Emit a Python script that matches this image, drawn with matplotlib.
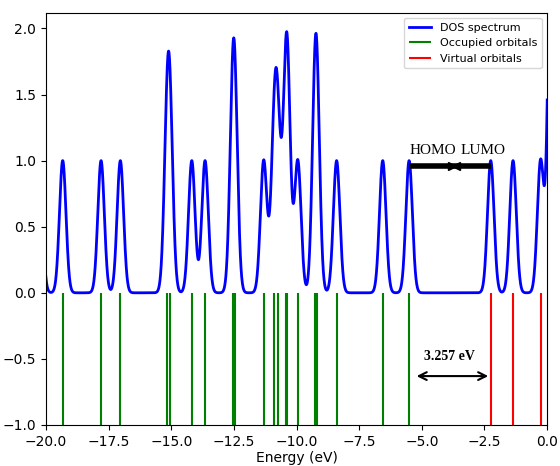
import matplotlib
matplotlib.use("Agg")
import matplotlib.pyplot as plt
import numpy as np

# orbital energies (eV)
occupied = [-20.27, -19.33, -17.80, -17.03, -15.16, -15.05, -14.18, -13.65,
            -12.54, -12.47, -11.31, -10.895, -10.745, -10.42, -10.36, -9.95,
            -9.25, -9.20, -8.40, -6.56, -5.507]
virtual = [-2.25, -1.36, -0.26, 0.16, 0.17, 0.18]
sigma = 0.13

homo = max(occupied)
lumo = min(virtual)
gap = lumo - homo

energy = np.linspace(-21, 1, 4000)
dos = np.zeros_like(energy)
for e in occupied + virtual:
    dos += np.exp(-(energy - e) ** 2 / (2 * sigma ** 2))

fig, ax = plt.subplots(figsize=(5.6, 4.66), dpi=100)
fig.subplots_adjust(left=0.082, right=0.977, bottom=0.088, top=0.973)

ax.plot(energy, dos, color='blue', lw=2, label='DOS spectrum')
ax.vlines(occupied, -1, 0, color='green', lw=1.5, label='Occupied orbitals')
ax.vlines(virtual, -1, 0, color='red', lw=1.5, label='Virtual orbitals')

# HOMO - LUMO bar with small heads meeting in the middle
mid = (homo + lumo) / 2 + 0.17
ax.plot([homo, lumo], [0.96, 0.96], color='black', lw=4, solid_capstyle='butt')
ax.plot([mid - 0.07], [0.96], marker='>', color='black', ms=6)
ax.plot([mid + 0.07], [0.96], marker='<', color='black', ms=6)
ax.text(homo, 1.05, 'HOMO', family='Liberation Serif', fontsize=11,
        ha='left', va='baseline')
ax.text(mid + 0.24, 1.05, 'LUMO', family='Liberation Serif', fontsize=11,
        ha='left', va='baseline')

# gap arrow
ax.annotate('', xy=(homo + 0.3, -0.63), xytext=(lumo - 0.1, -0.63),
            arrowprops=dict(arrowstyle='<->', lw=1.5, color='black',
                            mutation_scale=14, shrinkA=0, shrinkB=0))
ax.text((homo + lumo) / 2, -0.485, f'{gap:.3f} eV', family='Liberation Serif',
        fontsize=10, fontweight='bold', ha='center', va='center')

ax.set_xlim(-20, 0)
ax.set_ylim(-1, 2.12)
ax.set_xlabel('Energy (eV)', labelpad=2)
ax.legend(loc='upper right', fontsize=8)

plt.savefig('out.png')
